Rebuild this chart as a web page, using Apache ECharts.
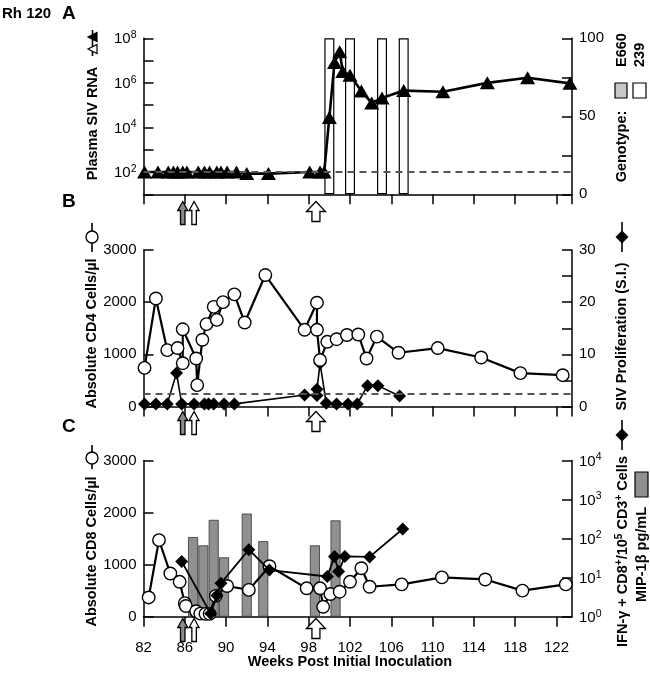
<!DOCTYPE html>
<html><head><meta charset="utf-8">
<script src="https://cdn.jsdelivr.net/npm/echarts@6/dist/echarts.min.js"></script>
<style>html,body{margin:0;padding:0;background:#fff}#c{width:650px;height:681px}</style>
</head><body><div id="c"></div>
<script>
// ---------- data ----------
const xTickValues = [82, 86, 90, 94, 98, 102, 106, 110, 114, 118, 122];

// Panel A: plasma SIV RNA (copies/ml) and genotype (% 239)
const rnaWeeks  = [82.1, 83.4, 84.4, 84.9, 85.3, 85.8, 86.2, 87.3, 87.9, 88.4, 89.1, 89.5, 90.1, 91.0, 92.0, 94.1, 98.1, 99.1, 99.5, 100.0, 100.5, 101.0, 101.3, 102.0, 103.1, 104.1, 105.1, 107.2, 111.0, 115.3, 119.2, 123.3];
const rnaValues = [100, 100, 100, 100, 100, 100, 100, 100, 100, 100, 100, 100, 100, 100, 85, 85, 100, 100, 100, 28000, 8.3e6, 2.5e7, 3.2e6, 2.2e6, 4.3e5, 1.26e5, 2.1e5, 4.5e5, 4.0e5, 1.0e6, 1.7e6, 9.5e5];
const rnaCutoff = 100;
const genoWeeks = [100.0, 102.0, 105.1, 107.2];
const geno239   = [100, 100, 100, 100];

// Panel B: CD4 counts and SIV proliferation
const cd4Weeks  = [82.1, 83.2, 84.3, 85.3, 85.8, 85.8, 87.1, 87.2, 87.7, 88.1, 88.8, 89.1, 89.7, 90.8, 91.8, 93.8, 97.6, 98.8, 98.8, 99.1, 99.8, 100.7, 101.7, 102.8, 103.6, 104.6, 106.7, 110.5, 114.7, 118.5, 122.6];
const cd4Values = [740, 2070, 1080, 1120, 830, 1480, 920, 410, 1280, 1580, 1910, 1660, 2000, 2150, 1610, 2520, 1470, 1990, 1470, 890, 1240, 1290, 1370, 1380, 920, 1340, 1030, 1120, 940, 640, 600];
const siWeeks   = [82.1, 83.2, 84.3, 85.2, 85.7, 86.9, 87.9, 88.3, 88.8, 89.8, 90.8, 97.6, 98.8, 98.8, 99.1, 99.7, 100.7, 101.8, 102.7, 103.7, 104.7, 106.8];
const siValues  = [0.5, 0.5, 0.5, 6.4, 0.5, 0.5, 0.5, 0.5, 0.5, 0.5, 0.5, 2.2, 2.1, 3.3, 8.3, 0.6, 0.5, 0.5, 0.5, 4.0, 4.0, 2.0];
const siCutoff  = 2.5;

// Panel C: CD8 counts, IFN-g+ CD8 cells, MIP-1b
const mipWeeks  = [86.8, 87.8, 88.8, 89.8, 92.0, 93.6, 98.6, 100.6];
const mipValues = [1530, 1370, 1860, 1140, 1980, 1450, 1370, 1850];
const cd8Weeks  = [82.5, 83.5, 84.6, 85.5, 86.0, 86.1, 87.1, 87.5, 88.0, 88.4, 89.0, 90.1, 92.2, 94.2, 97.8, 99.1, 99.4, 100.1, 101.0, 102.0, 103.1, 103.9, 107.0, 110.9, 115.1, 118.7, 122.9];
const cd8Values = [370, 1470, 830, 670, 260, 205, 105, 60, 55, 55, 400, 590, 515, 970, 545, 545, 190, 435, 480, 670, 930, 575, 620, 755, 715, 500, 620];
const ifnWeeks  = [85.7, 88.5, 89.1, 89.5, 92.2, 94.2, 99.8, 100.5, 100.9, 101.5, 103.9, 107.1];
const ifnValues = [26, 1.2, 3.5, 7.2, 52, 15.6, 10.7, 35, 14.3, 35, 34, 176];

// inoculation arrows (weeks)
const arrowWeeksSmall = [85.8, 86.9];
const arrowWeekBig = 98.7;

// ---------- chart ----------
const zip = (xs, ys) => xs.map((x, i) => [x, ys[i]]);
const FONT = '"Liberation Sans", Arial, Helvetica, sans-serif';
const TICK_FS = 15;
const chart = echarts.init(document.getElementById('c'), null, {renderer: 'canvas'});

const grids = [
  {left: 143.5, right: 78, top: 38.3, height: 156},
  {left: 143.5, right: 78, top: 250, height: 156.5},
  {left: 143.5, right: 78, top: 460.5, height: 156.2}
];
const lineBlack = {color: '#000', width: 1.5};
function xAxisDef(i, showLabel) {
  return {
    type: 'value', gridIndex: i, min: 82, max: 123.5, interval: 4,
    axisLine: {onZero: false, lineStyle: lineBlack},
    axisTick: {inside: false, length: 10, lineStyle: lineBlack},
    axisLabel: {show: showLabel, color: '#000', fontSize: TICK_FS, fontFamily: FONT, margin: 24,
      showMaxLabel: false,
      formatter: v => xTickValues.indexOf(Math.round(v * 100) / 100) >= 0 ? String(v) : ''},
    splitLine: {show: false}
  };
}
function yBase(i, pos) {
  return {
    gridIndex: i, position: pos,
    axisLine: {show: true, onZero: false, lineStyle: lineBlack},
    axisTick: {show: true, inside: true, length: 10, lineStyle: lineBlack},
    axisLabel: {color: '#000', fontSize: TICK_FS, fontFamily: FONT, margin: 7, formatter: v => String(v)},
    splitLine: {show: false}
  };
}
const supRich = {
  b: {fontSize: TICK_FS, fontFamily: FONT, color: '#000', verticalAlign: 'bottom', lineHeight: 17},
  s: {fontSize: 10.5, fontFamily: FONT, color: '#000', verticalAlign: 'top', lineHeight: 17}
};
function logLabel(evenOnly) {
  return v => {
    const e = Math.round(Math.log10(v));
    if (evenOnly && e % 2 !== 0) return '';
    return '{b|10}{s|' + e + '}';
  };
}

const yAxes = [
  Object.assign(yBase(0, 'left'), {type: 'log', logBase: 10, min: 10, max: 1e8, interval: 1}),
  Object.assign(yBase(0, 'right'), {type: 'value', min: 0, max: 100, interval: 25}),
  Object.assign(yBase(1, 'left'), {type: 'value', min: 0, max: 3000, interval: 1000}),
  Object.assign(yBase(1, 'right'), {type: 'value', min: 0, max: 30, interval: 5}),
  Object.assign(yBase(2, 'left'), {type: 'value', min: 0, max: 3000, interval: 1000}),
  Object.assign(yBase(2, 'right'), {type: 'log', logBase: 10, min: 1, max: 1e4, interval: 1})
];
yAxes[0].axisLabel = Object.assign({}, yAxes[0].axisLabel, {formatter: logLabel(true), rich: supRich});
yAxes[1].axisLabel = Object.assign({}, yAxes[1].axisLabel, {formatter: v => (v % 50 === 0 ? String(v) : '')});
yAxes[3].axisLabel = Object.assign({}, yAxes[3].axisLabel, {formatter: v => (v % 10 === 0 ? String(v) : '')});
yAxes[5].axisLabel = Object.assign({}, yAxes[5].axisLabel, {formatter: logLabel(false), rich: supRich});

const dashStyle = {type: [7, 5], color: '#555', width: 1.8};
const option = {
  backgroundColor: '#fff',
  animation: false,
  grid: grids,
  xAxis: [xAxisDef(0, false), xAxisDef(1, false), xAxisDef(2, true)],
  yAxis: yAxes,
  series: [
    {type: 'bar', name: 'Genotype 239', xAxisIndex: 0, yAxisIndex: 1, data: zip(genoWeeks, geno239),
     barWidth: 10, itemStyle: {color: '#fff', borderColor: '#000', borderWidth: 1.2}, z: 1},
    {type: 'line', name: 'Plasma SIV RNA', xAxisIndex: 0, yAxisIndex: 0, data: zip(rnaWeeks, rnaValues),
     symbol: 'triangle', symbolSize: [15, 13], itemStyle: {color: '#000'},
     lineStyle: {color: '#000', width: 2.6}, z: 3,
     markLine: {silent: true, symbol: 'none', label: {show: false}, lineStyle: dashStyle, data: [{yAxis: rnaCutoff}]}},
    {type: 'line', name: 'SIV Proliferation', xAxisIndex: 1, yAxisIndex: 3, data: zip(siWeeks, siValues),
     symbol: 'diamond', symbolSize: 13, itemStyle: {color: '#000'},
     lineStyle: {color: '#000', width: 1.6}, z: 3,
     markLine: {silent: true, symbol: 'none', label: {show: false}, lineStyle: dashStyle, data: [{yAxis: siCutoff}]}},
    {type: 'line', name: 'CD4', xAxisIndex: 1, yAxisIndex: 2, data: zip(cd4Weeks, cd4Values),
     symbol: 'circle', symbolSize: 12.5, itemStyle: {color: '#fff', borderColor: '#000', borderWidth: 1.4},
     lineStyle: {color: '#000', width: 2.2}, z: 4},
    {type: 'bar', name: 'MIP-1b', xAxisIndex: 2, yAxisIndex: 4, data: zip(mipWeeks, mipValues),
     barWidth: 10, itemStyle: {color: '#909090', borderColor: '#333', borderWidth: 0.8}, z: 1},
    {type: 'line', name: 'CD8', xAxisIndex: 2, yAxisIndex: 4, data: zip(cd8Weeks, cd8Values),
     symbol: 'circle', symbolSize: 12.5, itemStyle: {color: '#fff', borderColor: '#000', borderWidth: 1.4},
     lineStyle: {color: '#000', width: 2.2}, z: 3},
    {type: 'line', name: 'IFN-g', xAxisIndex: 2, yAxisIndex: 5, data: zip(ifnWeeks, ifnValues),
     symbol: 'diamond', symbolSize: 13, itemStyle: {color: '#000'},
     lineStyle: {color: '#000', width: 1.8}, z: 4}
  ]
};
chart.setOption(option);

// ---------- annotations ----------
const G = [];
function txt(x, y, text, font, rot, align, extra) {
  const el = {type: 'text', x: x, y: y, rotation: rot || 0, z: 100,
    style: Object.assign({text: text, font: font, fill: '#000',
      align: align || 'center', verticalAlign: 'middle',
      textAlign: align || 'center', textVerticalAlign: 'middle'}, extra || {})};
  G.push(el);
}
const R90 = Math.PI / 2;
const BOLDN = 'bold 14.5px ' + FONT;
txt(2, 14, 'Rh 120', 'bold 15px ' + FONT, 0, 'left');
txt(62, 14, 'A', 'bold 19px ' + FONT, 0, 'left');
txt(62, 201.5, 'B', 'bold 19px ' + FONT, 0, 'left');
txt(62, 427, 'C', 'bold 19px ' + FONT, 0, 'left');

txt(92.5, 123.5, 'Plasma SIV RNA', BOLDN, R90);
txt(92, 333.5, 'Absolute CD4 Cells/\u00b5l', BOLDN, R90);
txt(92, 551.5, 'Absolute CD8 Cells/\u00b5l', BOLDN, R90);
txt(622, 146.5, 'Genotype:', BOLDN, R90);
txt(622, 67, 'E660', BOLDN, R90, 'left');
txt(639.5, 67, '239', BOLDN, R90, 'left');
txt(622, 336.5, 'SIV Proliferation (S.I.)', BOLDN, R90);
txt(641.5, 554.5, 'MIP-1\u03b2 pg/mL', BOLDN, R90);
G.push({type: 'text', x: 622, y: 551.5, rotation: R90, z: 100,
  style: {text: '{n|IFN-\u03b3 + CD8}{s|+}{n|/10}{s|5}{n| CD3}{s|+}{n| Cells}',
    align: 'center', verticalAlign: 'middle', textAlign: 'center', textVerticalAlign: 'middle',
    rich: {n: {font: BOLDN, fill: '#000', verticalAlign: 'bottom', lineHeight: 16},
           s: {font: 'bold 10px ' + FONT, fill: '#000', verticalAlign: 'top', lineHeight: 16}}}});
txt(350, 662, 'Weeks Post Initial Inoculation', 'bold 14.5px ' + FONT, 0);

// legend keys beside axis names
function vline(x, y1, y2) { G.push({type: 'line', z: 100, shape: {x1: x, y1: y1, x2: x, y2: y2}, style: {stroke: '#000', lineWidth: 1.6}}); }
function leftTri(cx, cy, s, fill) {
  G.push({type: 'polygon', z: 101, shape: {points: [[cx - s / 2, cy], [cx + s / 2, cy - s / 2], [cx + s / 2, cy + s / 2]]},
    style: {fill: fill, stroke: '#000', lineWidth: 1.2}});
}
function circ(cx, cy, r) { G.push({type: 'circle', z: 101, shape: {cx: cx, cy: cy, r: r}, style: {fill: '#fff', stroke: '#000', lineWidth: 1.4}}); }
function diam(cx, cy, s) {
  G.push({type: 'polygon', z: 101, shape: {points: [[cx, cy - s / 2], [cx + s / 2, cy], [cx, cy + s / 2], [cx - s / 2, cy]]}, style: {fill: '#000'}});
}
function box(x, y, w, h, fill) { G.push({type: 'rect', z: 100, shape: {x: x, y: y, width: w, height: h}, style: {fill: fill, stroke: '#000', lineWidth: 1.2}}); }

vline(92.5, 30, 56); leftTri(92.5, 37, 9, '#000'); leftTri(92.5, 49, 9, '#fff');
vline(92, 223, 252); circ(92, 237, 6);
vline(622, 222, 252); diam(622, 237, 13);
vline(92, 445, 469); circ(92, 458, 6);
vline(622, 420, 450); diam(622, 435, 13);
box(615, 83, 12, 15, '#c8c8c8'); box(633, 83, 13, 15, '#fff');
box(635, 472, 13, 25, '#909090');

// arrows under each panel
function arrow(cx, top, w, h, headH, stemW, fill) {
  G.push({type: 'polygon', z: 100, shape: {points: [[cx, top], [cx + w / 2, top + headH], [cx + stemW / 2, top + headH],
    [cx + stemW / 2, top + h], [cx - stemW / 2, top + h], [cx - stemW / 2, top + headH], [cx - w / 2, top + headH]]},
    style: {fill: fill, stroke: '#000', lineWidth: 1.3}});
}
const arrowTops = [201.5, 411.5, 618.5];
for (let i = 0; i < 3; i++) {
  const t = arrowTops[i];
  arrowWeeksSmall.forEach((w, k) => {
    const px = chart.convertToPixel({xAxisIndex: i}, w);
    arrow(px, t, 10, 23, 9, 4.5, k === 0 ? '#8a8a8a' : '#fff');
  });
  const pb = chart.convertToPixel({xAxisIndex: i}, arrowWeekBig);
  arrow(pb, t, 19, 20, 10, 8, '#fff');
}
chart.setOption({graphic: G});
</script></body></html>
